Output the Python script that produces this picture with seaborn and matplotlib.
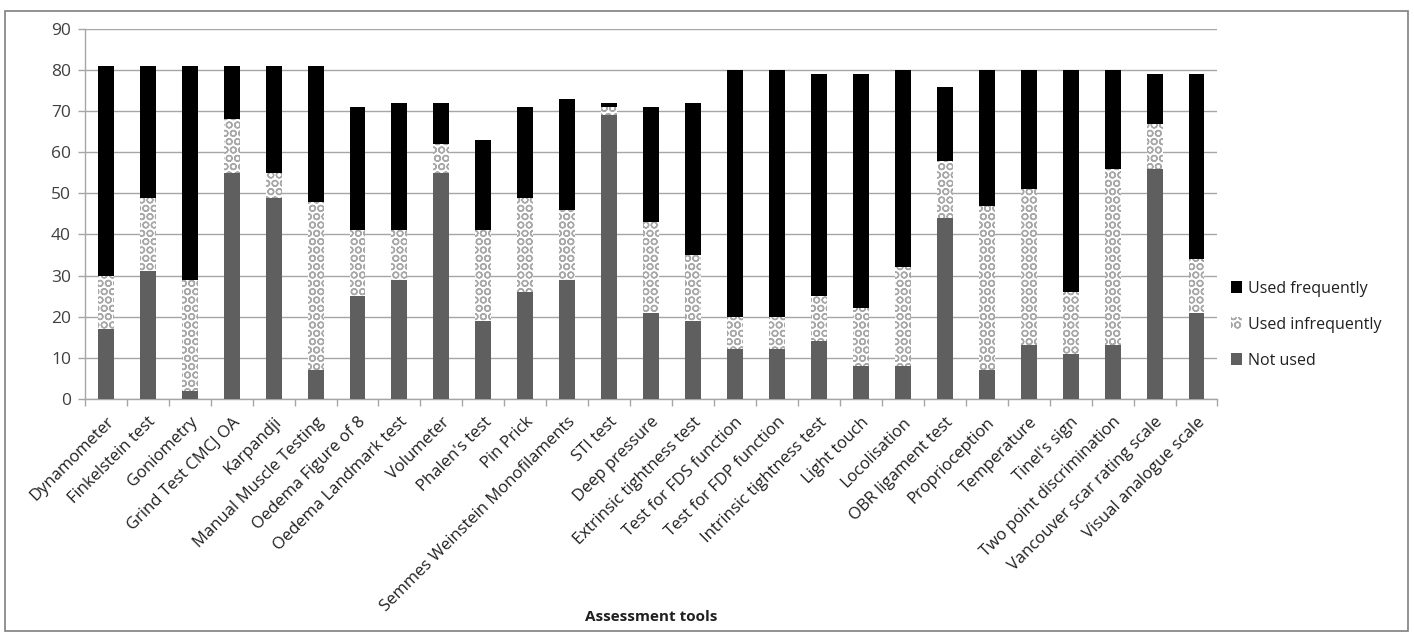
import matplotlib
matplotlib.use("Agg")
import matplotlib.pyplot as plt
import matplotlib.patches as mpatches
import numpy as np
import pandas as pd
import seaborn as sns

tools = [
    "Dynamometer", "Finkelstein test", "Goniometry", "Grind Test CMCJ OA",
    "Karpandji", "Manual Muscle Testing", "Oedema Figure of 8",
    "Oedema Landmark test", "Volumeter", "Phalen's test", "Pin Prick",
    "Semmes Weinstein Monofilaments", "STI test", "Deep pressure",
    "Extrinsic tightness test", "Test for FDS function",
    "Test for FDP function", "Intrinsic tightness test", "Light touch",
    "Locolisation", "OBR ligament test", "Proprioception", "Temperature",
    "Tinel's sign", "Two point discrimination", "Vancouver scar rating scale",
    "Visual analogue scale",
]
not_used = [17, 31, 2, 55, 49, 7, 25, 29, 55, 19, 26, 29, 69, 21, 19,
            12, 12, 14, 8, 8, 44, 7, 13, 11, 13, 56, 21]
used_infrequently = [13, 18, 27, 13, 6, 41, 16, 12, 7, 22, 23, 17, 2, 22, 16,
                     8, 8, 11, 14, 24, 14, 40, 38, 15, 43, 11, 13]
used_frequently = [51, 32, 52, 13, 26, 33, 30, 31, 10, 22, 22, 27, 1, 28, 37,
                   60, 60, 54, 57, 48, 18, 33, 29, 54, 24, 12, 45]
y_ticks = list(range(0, 91, 10))

df = pd.DataFrame({
    "tool": tools,
    "not_used": not_used,
    "used_infrequently": used_infrequently,
    "used_frequently": used_frequently,
})
# cumulative heights for the stacked layers
df["top_infrequent"] = df["not_used"] + df["used_infrequently"]
df["top_frequent"] = df["top_infrequent"] + df["used_frequently"]

sns.set_theme(style="white")
plt.rcParams["font.family"] = ["Open Sans", "DejaVu Sans"]
plt.rcParams["hatch.color"] = "#a8a8a8"
plt.rcParams["hatch.linewidth"] = 1.0

fig = plt.figure(figsize=(14.14, 6.32), dpi=100)
ax = fig.add_axes([0.060, 0.369, 0.801, 0.585])

text_color = "#404040"
grid_color = "#a6a6a6"
bar_w = 0.38
hatch = "OO"

sns.barplot(data=df, x="tool", y="top_frequent", color="black",
            width=bar_w, linewidth=0, saturation=1, ax=ax, zorder=3)
sns.barplot(data=df, x="tool", y="top_infrequent", color="white",
            width=bar_w, linewidth=0, saturation=1, hatch=hatch,
            edgecolor="#a8a8a8", ax=ax, zorder=4)
sns.barplot(data=df, x="tool", y="not_used", color="#5f5f5f",
            width=bar_w, linewidth=0, saturation=1, ax=ax, zorder=5)

n = len(tools)
ax.set_xlim(-0.5, n - 0.5)
ax.set_ylim(0, 90)
ax.set_yticks(y_ticks)
ax.yaxis.grid(True, color=grid_color, linewidth=1.0, zorder=0)
ax.set_axisbelow(True)

for s in ["top", "right"]:
    ax.spines[s].set_visible(False)
for s in ["left", "bottom"]:
    ax.spines[s].set_color(grid_color)
    ax.spines[s].set_linewidth(1.0)

# category boundary tick marks on the x axis
ax.set_xticks(np.arange(n))
ax.set_xticks(np.arange(-0.5, n, 1.0), minor=True)
ax.tick_params(axis="x", which="major", length=0, pad=11)
ax.tick_params(axis="x", which="minor", length=5, color=grid_color, width=1,
               direction="out", bottom=True)
ax.tick_params(axis="y", length=5, color=grid_color, width=1, left=True,
               labelsize=12.5, labelcolor=text_color, pad=5)
ax.set_xticklabels(tools, rotation=45, ha="right", rotation_mode="anchor",
                   fontsize=12, color="#202020")
ax.set_ylabel("")
ax.set_xlabel("Assessment tools", fontsize=11, fontweight="bold",
              color="#202020")
ax.xaxis.set_label_coords(0.5, -0.57)

handles = [
    mpatches.Patch(facecolor="black", edgecolor="none", label="Used frequently"),
    mpatches.Patch(facecolor="white", edgecolor="#a8a8a8", linewidth=0,
                   hatch=hatch, label="Used infrequently"),
    mpatches.Patch(facecolor="#5f5f5f", edgecolor="none", label="Not used"),
]
leg = fig.legend(handles=handles, loc="upper left",
                 bbox_to_anchor=(0.866, 0.566), frameon=False, fontsize=11.5,
                 handlelength=0.7, handleheight=0.7, handletextpad=0.35,
                 labelspacing=1.25, borderaxespad=0)
for t in leg.get_texts():
    t.set_color("#202020")

# outer frame of the chart area
fig.patches.append(mpatches.Rectangle((5 / 1414, 1 / 632), 1403 / 1414,
                                      620 / 632, transform=fig.transFigure,
                                      fill=False, edgecolor="#7f7f7f",
                                      linewidth=1.2))

fig.savefig("out.png", dpi=100)
